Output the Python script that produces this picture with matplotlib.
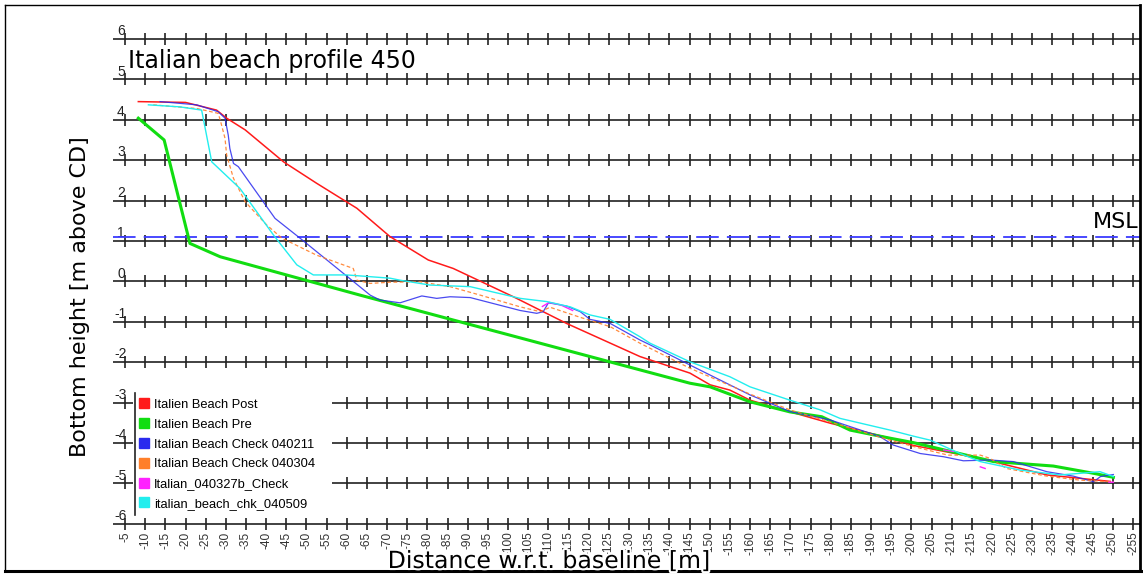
import numpy as np
import matplotlib
matplotlib.use("Agg")
import matplotlib.pyplot as plt
from matplotlib.lines import Line2D
from matplotlib.patches import Rectangle
import matplotlib.patheffects as pe

# profile data (distance w.r.t. baseline [m], bottom height [m above CD])
post_x = [-8.3, -20, -27.7, -30.2, -34.8, -44.3, -52.5, -62.5, -70.7, -80.2, -86.4, -101.3, -114.5,
          -132.7, -145.1, -150.1, -155, -160, -170, -179.9, -194.7, -200.5, -217, -233.6, -249.3]
post_y = [4.45, 4.43, 4.24, 4.04, 3.75, 2.96, 2.43, 1.81, 1.11, 0.53, 0.32, -0.38, -1.04,
          -1.86, -2.27, -2.56, -2.69, -2.94, -3.23, -3.51, -3.88, -4.06, -4.38, -4.79, -4.95]

pre_x = [-8.3, -14.7, -21.1, -28.6, -63.3, -132.7, -145.1, -150.1, -160, -169.9, -177.8, -184.8,
         -194.7, -200.5, -220.4, -235.2, -245.2, -250.1]
pre_y = [4.04, 3.50, 0.94, 0.61, -0.34, -2.19, -2.52, -2.61, -2.98, -3.23, -3.35, -3.68,
         -3.88, -3.99, -4.46, -4.57, -4.75, -4.85]

chk0211_x = [-13.7, -22.8, -28.1, -29.8, -30.6, -31.0, -31.9, -33.1, -42.2, -48.4, -65.8, -68.2,
             -73.2, -78.6, -82.3, -85.6, -90.6, -96.8, -103.0, -107.1, -108.7, -110.0, -114.5,
             -117.9, -120.3, -125.3, -132.7, -135.2, -145.1, -160, -169.9, -179.9, -192.2,
             -195.5, -202.2, -208, -212.9, -219.5, -225.3, -233.6, -240.2, -245.2, -246.9, -250.1]
chk0211_y = [4.45, 4.37, 4.2, 4.04, 3.62, 3.29, 2.92, 2.84, 1.56, 1.07, -0.34, -0.46,
             -0.53, -0.36, -0.42, -0.38, -0.40, -0.56, -0.72, -0.79, -0.75, -0.53, -0.61,
             -0.75, -0.94, -1.04, -1.45, -1.57, -2.07, -2.81, -3.22, -3.43, -3.84,
             -4.05, -4.26, -4.34, -4.44, -4.42, -4.46, -4.71, -4.82, -4.96, -4.83, -4.78]

chk0304_x = [-12, -22.8, -28.1, -28.6, -29.8, -30.2, -31.9, -34.8, -40.1, -43.9, -52.5, -59.1,
             -61.6, -62.5, -65.8, -70.7, -78.2, -85.6, -93.1, -103, -108, -110.4, -117.9,
             -125.3, -132.7, -145.1, -160, -169.9, -179.9, -194.7, -202.2, -209.1, -217.1,
             -219.5, -223.6, -233.6, -241.9, -250.1]
chk0304_y = [4.37, 4.28, 4.16, 4.0, 3.54, 3.13, 2.55, 1.97, 1.40, 1.07, 0.65, 0.41,
             0.32, 0.03, -0.05, -0.02, -0.01, -0.13, -0.34, -0.63, -0.75, -0.64, -0.89,
             -1.12, -1.53, -2.15, -2.79, -3.18, -3.48, -3.93, -4.13, -4.30, -4.30,
             -4.38, -4.63, -4.82, -4.92, -4.96]

chk0327_x = [-108.5, -110.2, -113, -116, np.nan, -208, -210.5, np.nan, -217.1, -218.3, np.nan, -249, -250.1]
chk0327_y = [-0.62, -0.52, -0.58, -0.72, np.nan, -4.17, -4.21, np.nan, -4.59, -4.63, np.nan, -4.97, -4.97]

chk0509_x = [-10.8, -18.6, -24, -26.5, -33.5, -41.8, -47.6, -51.7, -60, -70.7, -73.2, -80.6,
             -90.6, -103, -109.6, -115.4, -120.3, -125.3, -132.7, -135.2, -145.1, -155, -160,
             -169.9, -177.4, -182.3, -194.7, -200.5, -204.7, -212.1, -217.1, -227, -236.9,
             -246.8, -250.1]
chk0509_y = [4.37, 4.32, 4.24, 2.96, 2.30, 1.15, 0.41, 0.16, 0.16, 0.08, 0.03, -0.09,
             -0.13, -0.42, -0.50, -0.63, -0.83, -0.94, -1.37, -1.53, -1.99, -2.36, -2.61,
             -2.94, -3.18, -3.39, -3.68, -3.83, -3.93, -4.26, -4.46, -4.67, -4.79,
             -4.71, -4.83]

labels = ["Italien Beach Post", "Italien Beach Pre", "Italian Beach Check 040211",
          "Italian Beach Check 040304", "Italian_040327b_Check", "italian_beach_chk_040509"]
colors = ["#ff1a1a", "#11dd11", "#2a2aee", "#ff7f2a", "#ff22ff", "#22eeee"]

y_levels = list(range(6, -7, -1))
x_ticks = list(range(-5, -256, -5))
msl = 1.1

fig = plt.figure(figsize=(11.43, 5.76), dpi=100)
ax = fig.add_axes([113 / 1143, 46 / 576, 1027 / 1143, 510 / 576])
ax.set_xlim(-2.02, -256.7)
ax.set_ylim(-6.153, 6.47)
for s in ax.spines.values():
    s.set_visible(False)

# horizontal level lines with cross ticks
for yv in y_levels:
    ax.axhline(yv, color="#333333", lw=1.3, zorder=1)
    ax.plot(x_ticks, [yv] * len(x_ticks), linestyle="none", marker="|",
            markersize=8.6, markeredgewidth=1.2, color="#222222", zorder=1)
    ax.text(-4, yv + 0.02, str(yv), ha="center", va="bottom", fontsize=10,
            family="Liberation Sans", color="#222222", zorder=1)

ax.axhline(msl, color="#3a3aff", lw=1.3, dashes=(12.5, 4.5), zorder=2)
ax.text(-256.3, msl + 0.12, "MSL", ha="right", va="bottom", fontsize=16, family="DejaVu Sans")

ax.plot(post_x, post_y, color=colors[0], lw=1.1, zorder=3)
ax.plot(pre_x, pre_y, color=colors[1], lw=2.2, zorder=3)
ax.plot(chk0211_x, chk0211_y, color=colors[2], lw=0.9, alpha=0.85, zorder=3)
ax.plot(chk0304_x, chk0304_y, color=colors[3], lw=0.9, dashes=(3, 2), alpha=0.9, zorder=3)
ax.plot(chk0327_x, chk0327_y, color=colors[4], lw=1.0, zorder=3)
ax.plot(chk0509_x, chk0509_y, color=colors[5], lw=1.0, zorder=3)

ax.set_xticks(x_ticks)
ax.set_xticklabels([str(v) for v in x_ticks], rotation=90, fontsize=8.6,
                   family="Liberation Sans", color="#333333")
ax.tick_params(axis="x", length=0, pad=1)
ax.set_yticks([])

# legend box
ax.add_patch(Rectangle((0.0195, 0.0294), 0.1935, 0.2398, transform=ax.transAxes,
                       facecolor="white", edgecolor="none", zorder=4))
ax.plot([0.0215, 0.0215], [0.0294, 0.2686], transform=ax.transAxes, color="#222222",
        lw=1.2, zorder=5)
handles = [Line2D([], [], marker="s", linestyle="none", color=c, markersize=7.5) for c in colors]
leg = ax.legend(handles, labels, loc="upper left", bbox_to_anchor=(0.025, 0.257), frameon=False,
                prop={"family": "Liberation Sans", "size": 9.3}, handlelength=0.8,
                handletextpad=0.4, labelspacing=0.6, borderaxespad=0, borderpad=0)
leg.set_zorder(6)

fig.text(128 / 1143, 1 - 68 / 576, "Italian beach profile 450", fontsize=17,
         family="DejaVu Sans", ha="left", va="baseline")
fig.text(549 / 1143, 1 - 568 / 576, "Distance w.r.t. baseline [m]", fontsize=17,
         family="DejaVu Sans", ha="center", va="baseline",
         path_effects=[pe.withStroke(linewidth=3, foreground="white")])
fig.text(80 / 1143, 1 - 297 / 576, "Bottom height [m above CD]", fontsize=16,
         family="DejaVu Sans", ha="center", va="center", rotation=90)

# outer frame
fig.add_artist(Line2D([5 / 1143, 1140 / 1143], [1 - 5 / 576, 1 - 5 / 576], color="black", lw=1.0))
fig.add_artist(Line2D([5 / 1143, 5 / 1143], [1 - 5 / 576, 1 - 571 / 576], color="black", lw=1.0))
fig.add_artist(Line2D([1140 / 1143, 1140 / 1143], [1 - 5 / 576, 1 - 571 / 576], color="black", lw=2.0))
fig.add_artist(Line2D([5 / 1143, 1141 / 1143], [1 - 571 / 576, 1 - 571 / 576], color="black", lw=2.2))

fig.savefig("out.png", dpi=100)
